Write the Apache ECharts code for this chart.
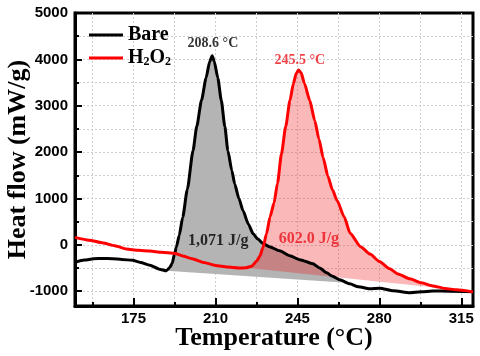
<!DOCTYPE html>
<html>
<head>
<meta charset="utf-8">
<script src="https://cdn.jsdelivr.net/npm/echarts@6/dist/echarts.min.js"></script>
<style>
html, body { margin: 0; padding: 0; background: #fff; }
#chart { width: 480px; height: 356px; }
</style>
</head>
<body>
<div id="chart"></div>
<script>
// DSC curves: [temperature, heat flow]
const bareCurve = [
  [150, -380], [154, -330], [158, -300], [162, -295], [166, -300], [170, -315],
  [174.6, -335], [178, -380], [182, -440], [186, -525], [189, -560], [190.5, -490],
  [191.5, -400], [192.5, -200], [193.3, -50], [194.5, 200], [196, 590], [198, 1200],
  [200.4, 2030], [202, 2550], [204, 3110], [206, 3600], [207.5, 3950], [208.6, 4080],
  [209.5, 3950], [211, 3600], [212.5, 3110], [214, 2550], [215.3, 2030], [217, 1600],
  [218.2, 1318], [220, 1000], [221.8, 734], [224, 450], [226.1, 238], [228, 130],
  [230.2, 30], [233, -40], [237.4, -130], [241.8, -238], [246, -320], [251.6, -410],
  [254.5, -500], [257.5, -605], [260, -680], [263.1, -756], [267.4, -842], [271, -905],
  [275.9, -950], [280.2, -935], [286, -990], [293, -1035], [298, -1015], [302.8, -995],
  [310, -1000], [320, -1010]
];
const h2o2Curve = [
  [150, 160], [156, 100], [162, 40], [167, -20], [172, -90], [177, -120], [182, -135],
  [187, -160], [192.7, -185], [196, -240], [200, -300], [205, -380], [210, -445],
  [215, -480], [220, -500], [223, -497], [225.5, -460], [227.6, -350], [229, -240],
  [230.3, -60], [231.8, 238], [233.3, 600], [235, 900], [236.5, 1330], [238.2, 1966],
  [240, 2550], [241.8, 3110], [243.3, 3480], [244.5, 3700], [245.5, 3770], [246.6, 3710],
  [248, 3480], [250.3, 3110], [252.4, 2680], [254.2, 2280], [256, 1880], [258, 1480],
  [260, 1180], [262, 950], [265, 600], [267.5, 250], [272, -40], [276, -200], [280, -360],
  [284.4, -518], [288, -630], [293, -734], [298, -820], [302.8, -886], [308, -940],
  [313, -972], [320, -1015]
];
// integration baselines (start, end)
const bareBaseline = [[189, -560], [269, -830]];
const h2o2Baseline = [[222, -490], [311, -960]];

const xTicks = [175, 210, 245, 280, 315];
const xMinorTicks = [157.5, 175, 192.5, 210, 227.5, 245, 262.5, 280, 297.5, 315];
const yTicks = [-1000, 0, 1000, 2000, 3000, 4000, 5000];
const yMinorTicks = [-1000, -500, 0, 500, 1000, 1500, 2000, 2500, 3000, 3500, 4000, 4500];

const serif = '"Liberation Serif", "Times New Roman", serif';
const sans = '"Liberation Sans", Arial, sans-serif';

// curve between the baseline ends, closed back along the baseline
function peakArea(curve, base) {
  const pts = [base[0]];
  curve.forEach(p => { if (p[0] > base[0][0] && p[0] < base[1][0]) pts.push(p); });
  pts.push(base[1]);
  return pts;
}

function areaSeries(pts, color) {
  return {
    type: 'custom',
    coordinateSystem: 'cartesian2d',
    xAxisIndex: 0, yAxisIndex: 0,
    silent: true,
    z: 1,
    data: [pts[0]],
    renderItem: (params, api) => ({
      type: 'polygon',
      shape: { points: pts.map(p => api.coord(p)) },
      style: { fill: color }
    })
  };
}

const myChart = echarts.init(document.getElementById('chart'));

const option = {
  animation: false,
  grid: {
    left: 75, right: 7, top: 13, bottom: 50,
    show: true, borderColor: '#000', borderWidth: 3,
    outerBoundsMode: 'none', containLabel: false
  },
  legend: {
    data: ['Bare', 'H2O2'],
    orient: 'vertical',
    left: 84, top: 20,
    icon: 'rect',
    itemWidth: 34, itemHeight: 3,
    itemGap: 1,
    formatter: name => name === 'H2O2' ? '{n|H}{s|2}{n|O}{s|2}' : '{n|' + name + '}',
    textStyle: {
      rich: {
        n: { fontFamily: serif, fontWeight: 'bold', fontSize: 20, color: '#000', lineHeight: 20 },
        s: { fontFamily: serif, fontWeight: 'bold', fontSize: 12, color: '#000', lineHeight: 20, verticalAlign: 'bottom', padding: [10, 0, 0, 0] }
      }
    }
  },
  xAxis: [
    {
      type: 'value', min: 150, max: 320, position: 'bottom',
      name: 'Temperature (\u00B0C)', nameLocation: 'middle', nameGap: 19, nameMoveOverlap: false,
      nameTextStyle: { fontFamily: serif, fontWeight: 'bold', fontSize: 26, color: '#000' },
      axisLine: { show: true, onZero: false, lineStyle: { color: '#000', width: 3 } },
      axisTick: { show: true, inside: true, length: 8, customValues: xTicks, lineStyle: { color: '#000', width: 2 } },
      axisLabel: { show: true, customValues: xTicks, margin: 5, formatter: v => String(v),
        fontFamily: sans, fontWeight: 'bold', fontSize: 15, color: '#000' },
      splitLine: { show: false }
    },
    {
      type: 'value', min: 150, max: 320, position: 'bottom',
      axisLine: { show: false, onZero: false },
      axisTick: { show: true, inside: true, length: 4, customValues: xMinorTicks, lineStyle: { color: '#000', width: 2 } },
      axisLabel: { show: false },
      splitLine: { show: true, lineStyle: { color: '#cfcfcf', width: 1, type: [2, 2] } }
    }
  ],
  yAxis: [
    {
      type: 'value', min: -1320, max: 5000, position: 'left',
      name: 'Heat flow (mW/g)', nameLocation: 'middle', nameGap: 44, nameMoveOverlap: false,
      nameTextStyle: { fontFamily: serif, fontWeight: 'bold', fontSize: 26, color: '#000' },
      axisLine: { show: true, onZero: false, lineStyle: { color: '#000', width: 3 } },
      axisTick: { show: true, inside: true, length: 7, customValues: yTicks, lineStyle: { color: '#000', width: 2 } },
      axisLabel: { show: true, customValues: yTicks, margin: 7, formatter: v => String(v),
        fontFamily: sans, fontWeight: 'bold', fontSize: 15, color: '#000' },
      splitLine: { show: false }
    },
    {
      type: 'value', min: -1320, max: 5000, position: 'left',
      axisLine: { show: false, onZero: false },
      axisTick: { show: true, inside: true, length: 4, customValues: yMinorTicks, lineStyle: { color: '#000', width: 2 } },
      axisLabel: { show: false },
      splitLine: { show: true, lineStyle: { color: '#cfcfcf', width: 1, type: [2, 2] } }
    }
  ],
  series: [
    areaSeries(peakArea(bareCurve, bareBaseline), '#b4b4b4'),
    areaSeries(peakArea(h2o2Curve, h2o2Baseline), 'rgba(240, 20, 20, 0.3)'),
    {
      name: 'Bare', type: 'line', z: 3,
      data: bareCurve, symbol: 'none', smooth: 0.2, smoothMonotone: 'x',
      lineStyle: { color: '#000', width: 3 }, itemStyle: { color: '#000' }
    },
    {
      name: 'H2O2', type: 'line', z: 4,
      data: h2o2Curve, symbol: 'none', smooth: 0.2, smoothMonotone: 'x',
      lineStyle: { color: '#ff0000', width: 3 }, itemStyle: { color: '#ff0000' }
    },
    {
      // peak / enthalpy annotations
      type: 'scatter', z: 5, symbolSize: 0, silent: true,
      label: { show: true, position: 'inside', fontFamily: serif, fontWeight: 'bold' },
      data: [
        { value: [208.9, 4340], label: { formatter: '208.6 \u00B0C', fontSize: 14, color: '#000' } },
        { value: [246, 3975], label: { formatter: '245.5 \u00B0C', fontSize: 14, color: '#e8141b' } },
        { value: [211.2, 90], label: { formatter: '1,071 J/g', fontSize: 16, color: '#000' } },
        { value: [249.9, 130], label: { formatter: '602.0 J/g', fontSize: 16, color: '#e8141b' } }
      ]
    }
  ]
};

myChart.setOption(option);
</script>
</body>
</html>
